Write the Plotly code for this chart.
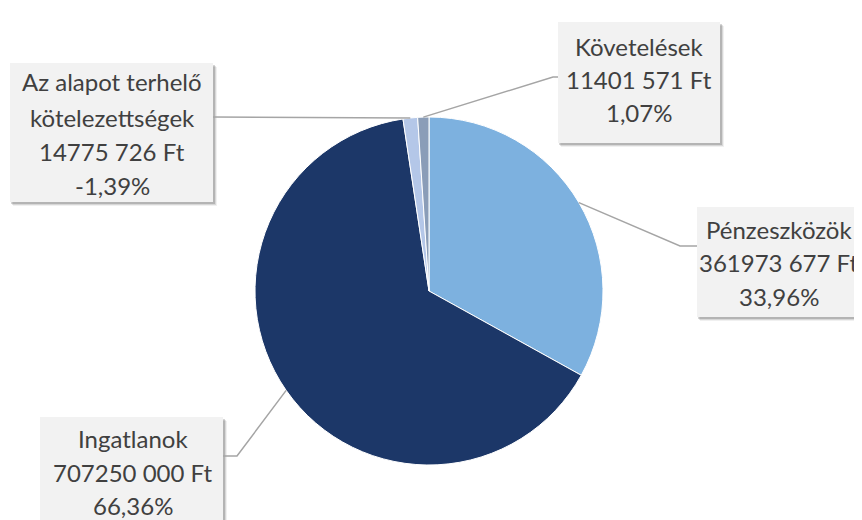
import math
import plotly.graph_objects as go

# ---- data ----
categories = ["Pénzeszközök", "Ingatlanok", "Az alapot terhelő<br>kötelezettségek", "Követelések"]
amounts = [361973677, 707250000, -14775726, 11401571]
colors = ["#7DB1DF", "#1C3768", "#B4C7E8", "#8A9DB8"]

W, H = 862, 520
OX, OY = 8, 8  # page body margin offset
CX, CY, R = 429, 291, 174


def px(x, y):
    return (x - OX) / W, 1 - (y - OY) / H


def fmt_amount(v):
    v = abs(v)
    return f"{v // 1000} {v % 1000:03d} Ft"


total_signed = sum(amounts)
pct_labels = [f"{v / total_signed * 100:.2f}%".replace(".", ",") for v in amounts]
abs_vals = [abs(v) for v in amounts]
abs_total = sum(abs_vals)

fig = go.Figure()
d0 = px(CX - R, CY + R)
d1 = px(CX + R, CY - R)
fig.add_trace(go.Pie(
    labels=[c.replace("<br>", " ") for c in categories],
    values=abs_vals,
    sort=False,
    direction="clockwise",
    rotation=0,
    marker=dict(colors=colors, line=dict(color="white", width=1)),
    textinfo="none",
    hoverinfo="label+value",
    domain=dict(x=[d0[0], d1[0]], y=[d0[1], d1[1]]),
    showlegend=False,
))

# label box layout (screen pixels)
boxes = [
    dict(box=(697, 880, 207, 317), tx=779, ly=[229, 262, 296], elbow=(680, 246), attach=(697, 246)),
    dict(box=(40, 223, 417, 540), tx=133, ly=[438, 472, 505], elbow=(237, 456), attach=(223, 456)),
    dict(box=(10, 213, 63, 202), tx=112, ly=[82, 117, 151, 185], elbow=(213, 117), attach=(213, 117)),
    dict(box=(558, 720, 22, 143), tx=639, ly=[47, 80, 113], elbow=(553, 77), attach=(558, 77)),
]

shapes = []
annotations = []
cum = 0
for i, v in enumerate(abs_vals):
    mid = (cum + v / 2) / abs_total
    cum += v
    ang = 2 * math.pi * mid
    sx = CX + R * math.sin(ang)
    sy = CY - R * math.cos(ang)
    b = boxes[i]
    x0, x1, y0, y1 = b["box"]
    for off, a in [(4, 0.06), (3, 0.10), (2, 0.16)]:
        p0 = px(x0 + off - 1, y0 + off)
        p1 = px(x1 + off, y1 + off)
        shapes.append(dict(type="rect", xref="paper", yref="paper", x0=p0[0], x1=p1[0], y0=p1[1], y1=p0[1],
                           fillcolor=f"rgba(0,0,0,{a})", line=dict(width=0), layer="above"))
    p0 = px(x0, y0)
    p1 = px(x1, y1)
    shapes.append(dict(type="rect", xref="paper", yref="paper", x0=p0[0], x1=p1[0], y0=p1[1], y1=p0[1],
                       fillcolor="#F2F2F2", line=dict(width=0), layer="above"))
    a0 = px(sx, sy)
    a1 = px(*b["elbow"])
    a2 = px(*b["attach"])
    shapes.append(dict(type="path", xref="paper", yref="paper",
                       path=f"M {a0[0]} {a0[1]} L {a1[0]} {a1[1]} L {a2[0]} {a2[1]}",
                       line=dict(color="#A5A5A5", width=1.5), layer="above"))
    lines = categories[i].split("<br>") + [fmt_amount(amounts[i]), pct_labels[i]]
    for ln, yy in zip(lines, b["ly"]):
        p = px(b["tx"], yy)
        annotations.append(dict(text=ln, x=p[0], y=p[1], xref="paper", yref="paper",
                                xanchor="center", yanchor="middle", showarrow=False,
                                font=dict(family="Lato", size=24, color="#404040")))

fig.update_layout(
    width=W, height=H,
    margin=dict(l=0, r=0, t=0, b=0),
    paper_bgcolor="white",
    plot_bgcolor="white",
    shapes=shapes,
    annotations=annotations,
    showlegend=False,
)

fig.write_html("out.html")
